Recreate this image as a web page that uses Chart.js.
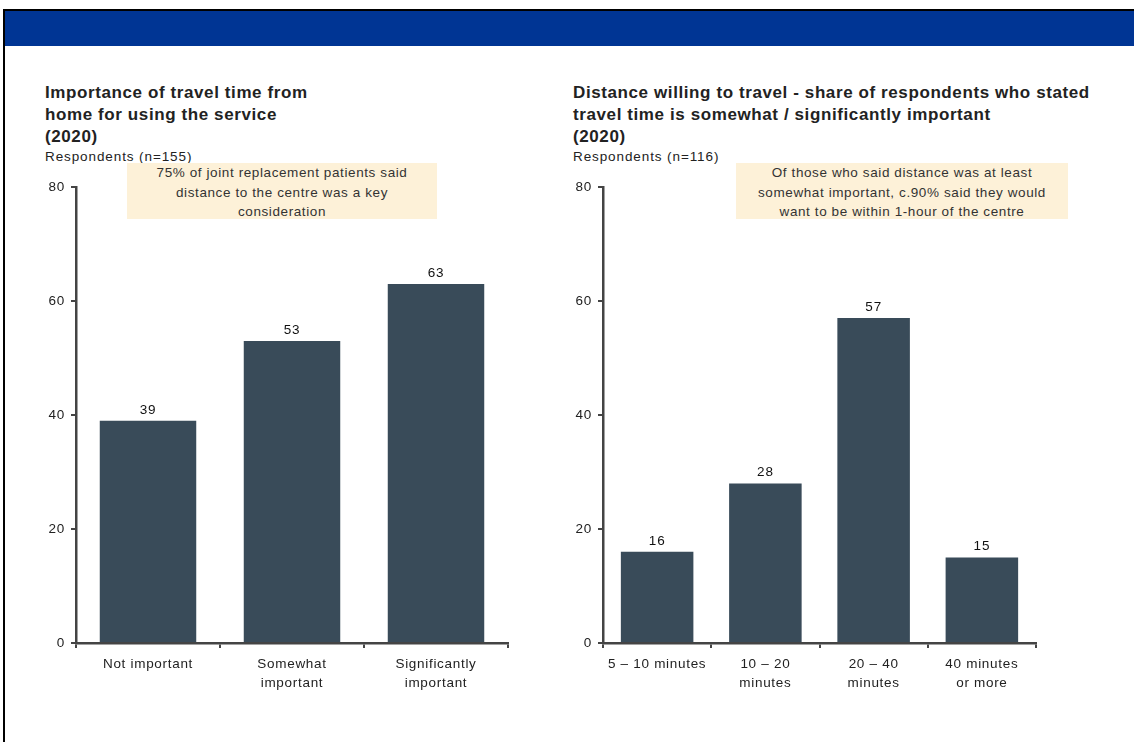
<!DOCTYPE html>
<html>
<head>
<meta charset="utf-8">
<script src="https://cdn.jsdelivr.net/npm/chart.js@4"></script>
<style>
  body { margin: 0; background: #fff; font-family: "Liberation Sans", Arial, sans-serif; }
  #page { position: relative; width: 1134px; height: 742px; overflow: hidden; }
  #frame { position: absolute; left: 3px; top: 9px; width: 1140px; height: 740px; border-left: 2px solid #000; border-top: 2px solid #000; }
  #band { position: absolute; left: 5px; top: 11px; width: 1129px; height: 35px; background: #003594; }
  .title { position: absolute; font-weight: bold; font-size: 17px; letter-spacing: 0.6px; line-height: 22px; color: #222; white-space: nowrap; }
  .sub { position: absolute; font-size: 13.5px; letter-spacing: 0.9px; color: #222; white-space: nowrap; }
  .note { position: absolute; background: #fdf1d8; font-size: 13.5px; letter-spacing: 0.6px; line-height: 19.5px; color: #333; text-align: center; box-sizing: border-box; white-space: nowrap; }
  canvas { position: absolute; }
</style>
</head>
<body>
<div id="page">
  <div id="frame"></div>
  <div id="band"></div>

  <div class="title" style="left:45px; top:82px;">Importance of travel time from<br>home for using the service<br>(2020)</div>
  <div class="sub" style="left:45px; top:149px;">Respondents (n=155)</div>

  <div class="title" style="left:573px; top:82px;">Distance willing to travel - share of respondents who stated<br>travel time is somewhat / significantly important<br>(2020)</div>
  <div class="sub" style="left:573px; top:149px;">Respondents (n=116)</div>

  <div style="position:absolute; left:20px; top:160px; width:500px; height:560px;"><canvas id="left"></canvas></div>
  <div style="position:absolute; left:550px; top:160px; width:500px; height:560px;"><canvas id="right"></canvas></div>

  <div class="note" style="left:127px; top:163px; width:310px; height:56px;">75% of joint replacement patients said<br>distance to the centre was a key<br>consideration</div>
  <div class="note" style="left:736px; top:163px; width:332px; height:56px;">Of those who said distance was at least<br>somewhat important, c.90% said they would<br>want to be within 1-hour of the centre</div>
</div>

<script>
const leftCategories = [["Not important"], ["Somewhat", "important"], ["Significantly", "important"]];
const leftValues = [39, 53, 63];
const rightCategories = [["5 \u2013 10 minutes"], ["10 \u2013 20", "minutes"], ["20 \u2013 40", "minutes"], ["40 minutes", "or more"]];
const rightValues = [16, 28, 57, 15];
const yTicks = [0, 20, 40, 60, 80];

const barColor = "#394b59";
const axisColor = "#444";
const font = { family: "'Liberation Sans', Arial, sans-serif", size: 13.5, lineHeight: 1.4 };

// reference text is drawn a bit wide, so space letters out on the canvas too
const wideText = {
  id: "wideText",
  beforeLayout(chart) { chart.ctx.letterSpacing = "0.7px"; },
  beforeDraw(chart) { chart.ctx.letterSpacing = "0.7px"; }
};

const valueLabels = {
  id: "valueLabels",
  afterDatasetsDraw(chart) {
    const ctx = chart.ctx;
    const meta = chart.getDatasetMeta(0);
    ctx.save();
    ctx.letterSpacing = "0.8px";
    ctx.font = "13.5px 'Liberation Sans', Arial, sans-serif";
    ctx.fillStyle = "#111";
    ctx.textAlign = "center";
    ctx.textBaseline = "bottom";
    meta.data.forEach((bar, i) => {
      ctx.fillText(chart.data.datasets[0].data[i], bar.x, bar.y - 4);
    });
    ctx.restore();
  }
};

function makeChart(id, labels, values, yWidth, padRight) {
  new Chart(document.getElementById(id), {
    type: "bar",
    data: {
      labels: labels,
      datasets: [{ data: values, backgroundColor: barColor, categoryPercentage: 0.67, barPercentage: 1.0 }]
    },
    options: {
      responsive: true,
      maintainAspectRatio: false,
      animation: false,
      layout: { padding: { top: 27, right: padRight, left: 0, bottom: 0 } },
      plugins: { legend: { display: false }, tooltip: { enabled: false } },
      scales: {
        x: {
          grid: { display: true, drawOnChartArea: false, drawTicks: true, tickLength: 5, color: axisColor, lineWidth: 2, offset: true },
          border: { display: true, color: axisColor, width: 2.5 },
          ticks: { color: "#222", font: font, padding: 7, maxRotation: 0, autoSkip: false },
          afterFit(scale) { scale.height = 77; }
        },
        y: {
          min: 0, max: 80,
          afterBuildTicks(scale) { scale.ticks = yTicks.map(v => ({ value: v })); },
          grid: { display: true, drawOnChartArea: false, drawTicks: true, tickLength: 5, color: axisColor, lineWidth: 2 },
          border: { display: true, color: axisColor, width: 2.5 },
          ticks: { color: "#222", font: { family: font.family, size: 13.5 }, padding: 6 },
          afterFit(scale) { scale.width = yWidth; }
        }
      }
    },
    plugins: [wideText, valueLabels]
  });
}

makeChart("left", leftCategories, leftValues, 56, 12);
makeChart("right", rightCategories, rightValues, 53, 14);
</script>
</body>
</html>
